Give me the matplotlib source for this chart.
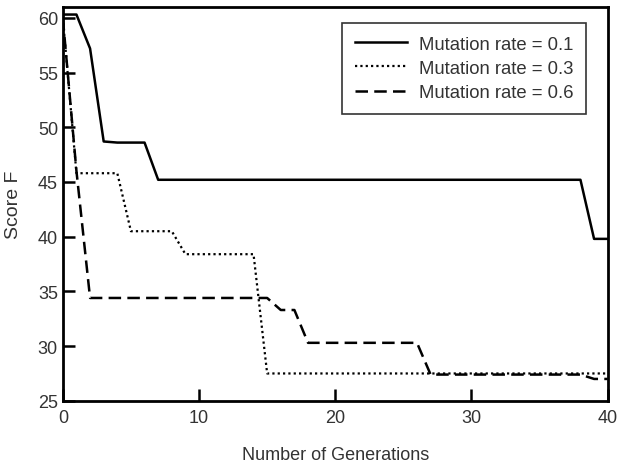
import matplotlib
matplotlib.use("Agg")
import matplotlib.pyplot as plt

plt.rcParams['font.family'] = ['Liberation Sans', 'DejaVu Sans']

gens = list(range(0, 41))

rate_01 = [60.3, 60.3, 57.2, 48.7, 48.6, 48.6, 48.6] + [45.2] * 32 + [39.8, 39.8]
rate_03 = [60.0, 45.8, 45.8, 45.8, 45.8, 40.5, 40.5, 40.5, 40.5, 38.4, 38.4, 38.4, 38.4, 38.4, 38.4] + [27.5] * 26
rate_06 = [60.0, 46.0] + [34.4] * 14 + [33.3, 33.3] + [30.3] * 9 + [27.4] * 12 + [27.0, 27.0]

labels = ["Mutation rate = 0.1", "Mutation rate = 0.3", "Mutation rate = 0.6"]

fig = plt.figure(figsize=(6.22, 4.64), dpi=100)
ax = fig.add_axes([0.101, 0.134, 0.876, 0.849])

ax.plot(gens, rate_01, color='black', lw=1.8, linestyle='-', label=labels[0])
ax.plot(gens, rate_03, color='black', lw=1.6, linestyle=(0, (1, 1.4)), label=labels[1])
ax.plot(gens, rate_06, color='black', lw=1.8, linestyle=(0, (5, 2.5)), label=labels[2])

ax.set_xlim(0, 40)
ax.set_ylim(25, 61)
ax.set_xticks([0, 10, 20, 30, 40])
ax.set_yticks([25, 30, 35, 40, 45, 50, 55, 60])
ax.tick_params(direction='in', length=8.5, width=1.8, labelsize=13, colors='black', labelcolor='#333333')
ax.tick_params(axis='x', pad=6)
ax.tick_params(axis='y', pad=3.5)
for s in ax.spines.values():
    s.set_linewidth(2)

ax.set_xlabel("Number of Generations", fontsize=13, color='#333333', labelpad=14.5)
ax.set_ylabel("Score F", fontsize=14, color='#333333', labelpad=11)

leg = ax.legend(loc='upper right', fontsize=13.3, frameon=True, fancybox=False,
                edgecolor='black', borderpad=0.7, handlelength=2.8, handletextpad=0.65,
                labelspacing=0.38, borderaxespad=0,
                bbox_to_anchor=(586 / 622, 1 - 24 / 464), bbox_transform=fig.transFigure)
leg.get_frame().set_linewidth(1.2)
for t in leg.get_texts():
    t.set_color('#333333')

fig.savefig("out.png", dpi=100)
